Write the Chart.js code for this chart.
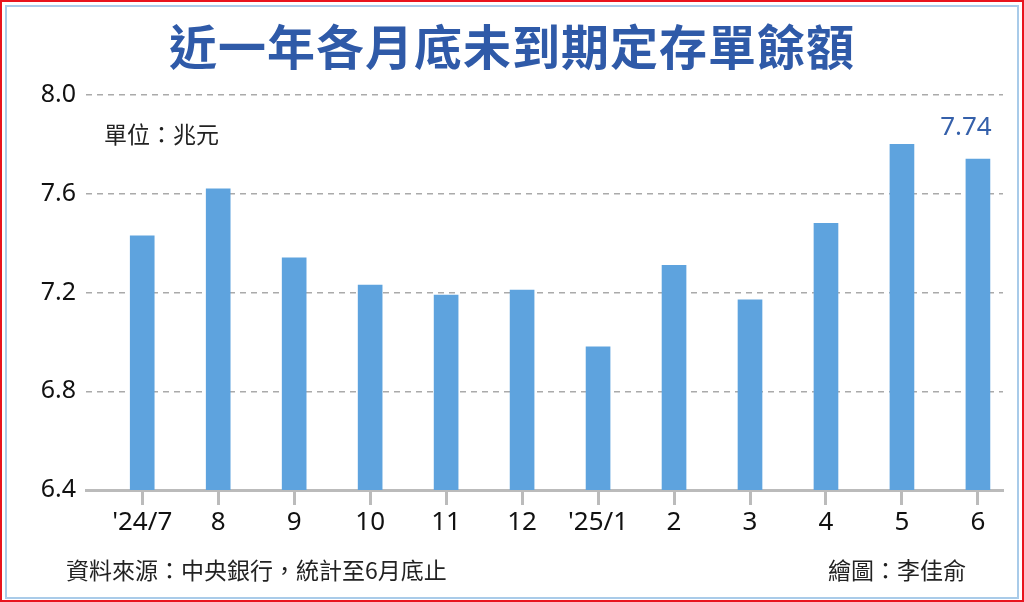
<!DOCTYPE html>
<html>
<head>
<meta charset="utf-8">
<script src="https://cdn.jsdelivr.net/npm/chart.js@4.4.1/dist/chart.umd.min.js"></script>
<style>
  html, body { margin: 0; padding: 0; background: #fff; }
  #wrap { position: relative; width: 1024px; height: 602px; overflow: hidden; font-family: "Noto Sans CJK TC", "Noto Sans", sans-serif; }
  #frame { position: absolute; left: 0; top: 0; width: 1020px; height: 598px; border: 2px solid #e8141e; box-sizing: content-box; pointer-events: none; }
  #inner { position: absolute; left: 5px; top: 5px; width: 1010px; height: 590px; border: 2px solid #a9cbe9; pointer-events: none; }
  #title { position: absolute; left: 0; width: 1024px; top: 16px; text-align: center; font-size: 48px; font-weight: 700; color: #2f5aa8; letter-spacing: 1px; line-height: 1.2; }
  .note { position: absolute; font-size: 23px; color: #222; line-height: 1.2; }
  canvas { position: absolute; left: 0; top: 0; }
</style>
</head>
<body>
<div id="wrap">
  <canvas id="chart" width="1024" height="602"></canvas>
  <div id="title">近一年各月底未到期定存單餘額</div>
  <div class="note" style="left:104px; top:120px;">單位：兆元</div>
  <div class="note" style="left:66px; top:556px;">資料來源：中央銀行，統計至6月底止</div>
  <div class="note" style="left:828px; top:556px;">繪圖：李佳俞</div>
  <div id="frame"></div>
  <div id="inner"></div>
</div>
<script>
// data
const monthLabels = ["'24/7", "8", "9", "10", "11", "12", "'25/1", "2", "3", "4", "5", "6"];
const balances = [7.43, 7.62, 7.34, 7.23, 7.19, 7.21, 6.98, 7.31, 7.17, 7.48, 7.80, 7.74];
const yTicks = [6.4, 6.8, 7.2, 7.6, 8.0];
const lastLabel = "7.74";

const barColor = "#5ea3de";

const lastValuePlugin = {
    id: "lastValue",
    afterDatasetsDraw(chart) {
        const meta = chart.getDatasetMeta(0);
        const bar = meta.data[meta.data.length - 1];
        const ctx = chart.ctx;
        ctx.save();
        ctx.font = "26px 'Noto Sans', sans-serif";
        ctx.fillStyle = "#3560aa";
        ctx.textAlign = "center";
        ctx.textBaseline = "alphabetic";
        ctx.fillText(lastLabel, bar.x - 12, bar.y - 24);
        ctx.restore();
    }
};

new Chart(document.getElementById("chart"), {
    type: "bar",
    data: {
        datasets: [{
            data: balances.map((v, i) => ({ x: i, y: v })),
            backgroundColor: barColor,
            barThickness: 24
        }]
    },
    options: {
        responsive: false,
        animation: false,
        layout: { padding: { top: 95, right: 21, bottom: 0, left: 0 } },
        plugins: { legend: { display: false }, tooltip: { enabled: false } },
        scales: {
            x: {
                type: "linear",
                offset: false,
                min: -0.74,
                max: 11.33,
                afterBuildTicks(axis) { axis.ticks = monthLabels.map((l, i) => ({ value: i })); },
                afterFit(axis) { axis.height = 112; },
                ticks: {
                    callback: (v) => monthLabels[v],
                    color: "#111",
                    font: { size: 26, family: "'Noto Sans', sans-serif" },
                    padding: 2,
                    maxRotation: 0,
                    autoSkip: false
                },
                grid: {
                    offset: false,
                    drawOnChartArea: false,
                    tickLength: 15,
                    tickColor: "#bbb",
                    tickWidth: 3
                },
                border: { display: true, color: "#bbb", width: 3 }
            },
            y: {
                min: 6.4,
                max: 8.0,
                afterBuildTicks(axis) { axis.ticks = yTicks.map(v => ({ value: v })); },
                afterFit(axis) { axis.width = 86; },
                ticks: {
                    callback: (v) => v.toFixed(1),
                    color: "#111",
                    font: { size: 25, family: "'Noto Sans', sans-serif" },
                    padding: 10
                },
                grid: {
                    drawTicks: false,
                    color: (c) => c.tick && c.tick.value === 6.4 ? "rgba(0,0,0,0)" : "#aaa",
                    lineWidth: 1.5
                },
                border: { display: false, dash: [6, 5] }
            }
        }
    },
    plugins: [lastValuePlugin]
});
</script>
</body>
</html>
